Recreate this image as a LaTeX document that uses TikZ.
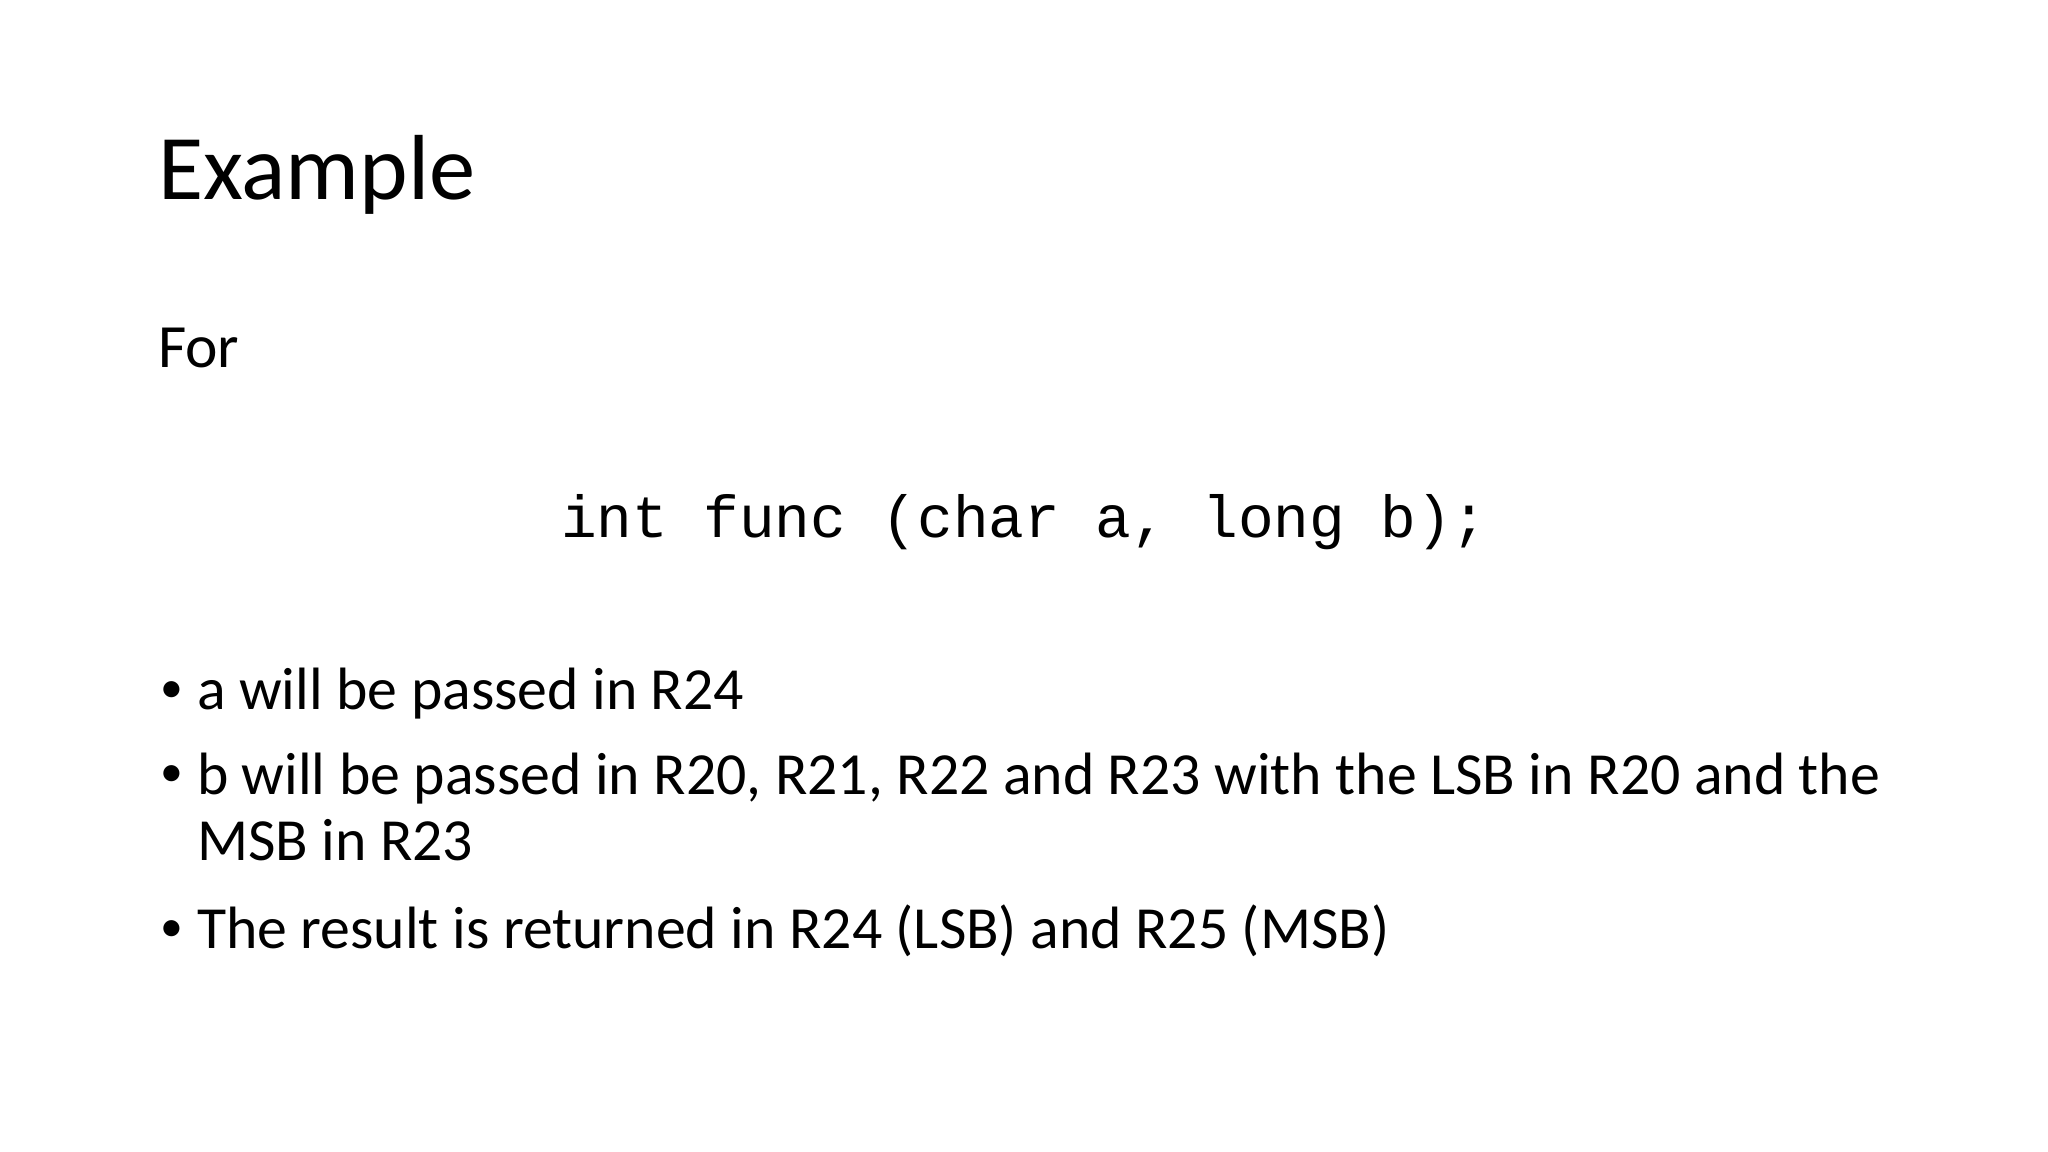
\documentclass[tikz,border=0pt]{standalone}
\usepackage{fontspec}
\setmainfont{Carlito}
\newfontfamily\codefont{Liberation Mono}
\begin{document}
\begin{tikzpicture}[x=1cm,y=-1cm,
  txt/.style={anchor=base west,inner sep=0pt,outer sep=0pt},
  bul/.style={anchor=base west,inner sep=0pt,outer sep=0pt,font=\fontsize{13}{15}\selectfont}]
\useasboundingbox (0,0) rectangle (20.48,11.52);
\node[txt,font=\fontsize{26.3}{32}\selectfont] (title) at (1.58,2.00) {Example};
\node[txt,font=\fontsize{17.5}{21}\selectfont] (for) at (1.58,3.68) {For};
\node[txt,font=\codefont\fontsize{16.9}{20}\selectfont] (code) at (5.61,5.38) {int func (char a, long b);};
\begin{scope}[every node/.style={txt,font=\fontsize{17}{19}\selectfont}]
\node[bul] (b1d) at (1.60,7.02) {•};
\node (b1) at (1.97,7.09) {a will be passed in R24};
\node[bul] (b2d) at (1.60,7.87) {•};
\node (b2) at (1.97,7.94) {b will be passed in R20, R21, R22 and R23 with the LSB in R20 and the};
\node (b2b) at (1.97,8.60) {MSB in R23};
\node[bul] (b3d) at (1.60,9.41) {•};
\node (b3) at (1.97,9.48) {The result is returned in R24 (LSB) and R25 (MSB)};
\end{scope}
\end{tikzpicture}
\end{document}
